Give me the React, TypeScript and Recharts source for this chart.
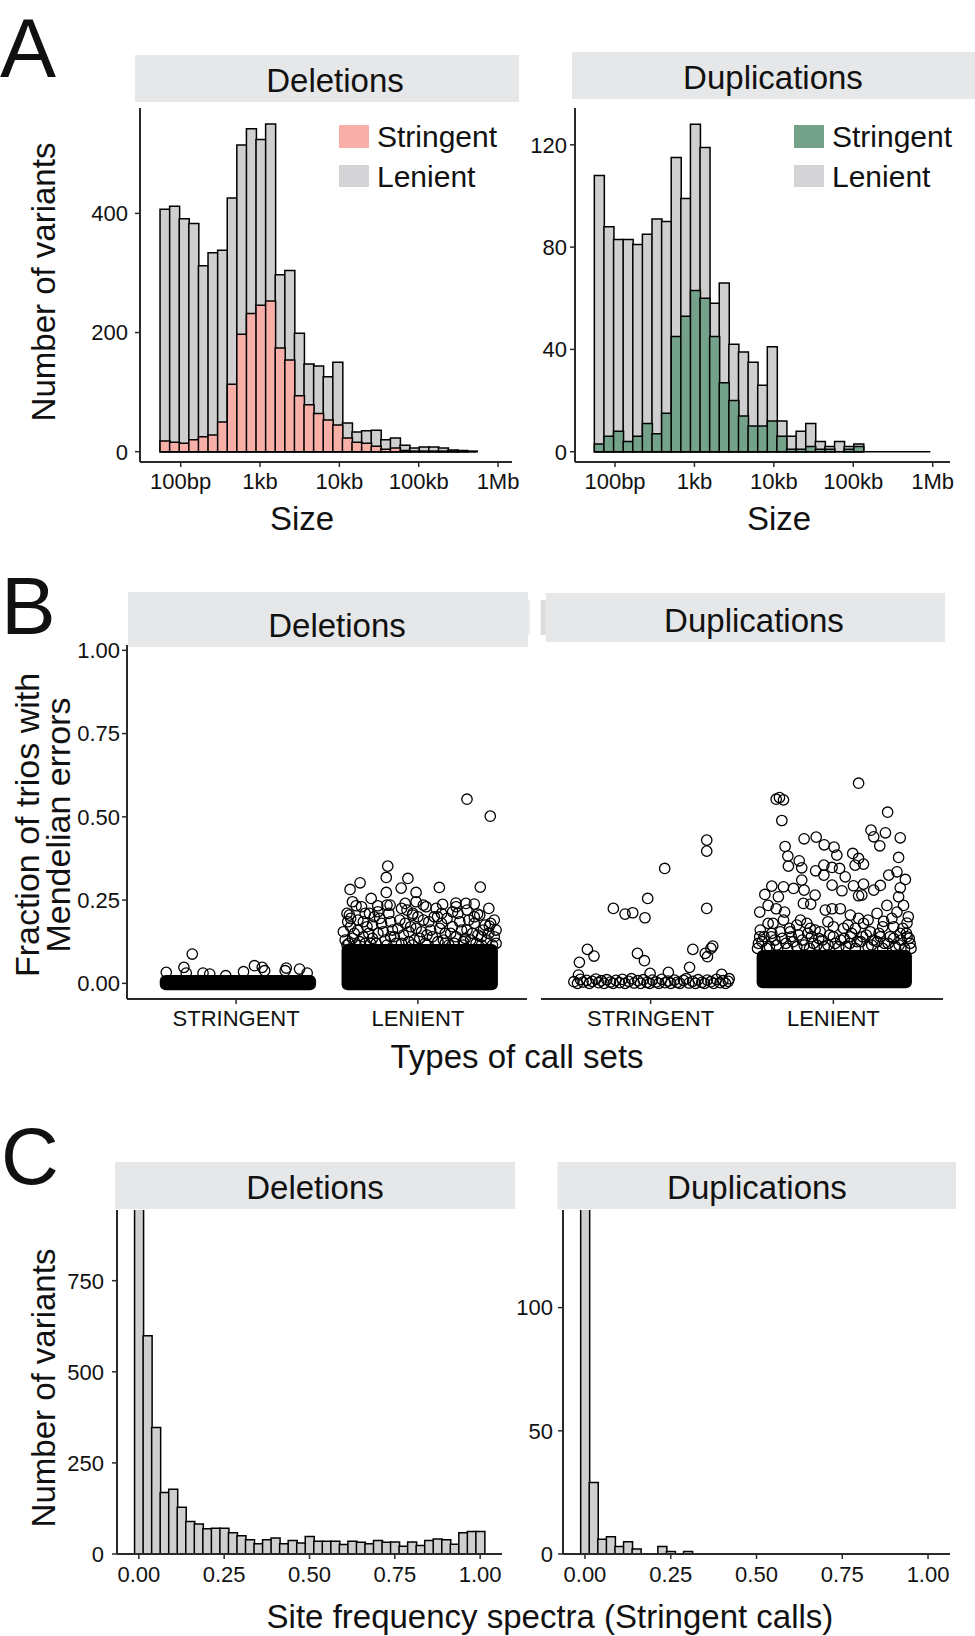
import React from 'react';
import {
  ComposedChart, ScatterChart, Bar, Scatter, XAxis, YAxis,
  ReferenceArea, ReferenceLine,
} from 'recharts';

const FONT = '"Liberation Sans", Arial, Helvetica, sans-serif';
const INK = '#111111';
const AXIS = '#2a2a2a';
const GREY = '#cfcfcf';
const PINK = '#f8afa8';
const GREEN = '#73a189';
const STRIP = '#e6e7e8';

// ---------- A: size of variants (bin centres in log10 bp) ----------
const sizeBins = [
  1.800, 1.921, 2.042, 2.163, 2.284, 2.405, 2.526, 2.647, 2.768, 2.889,
  3.010, 3.131, 3.252, 3.373, 3.494, 3.615, 3.736, 3.857, 3.978, 4.099,
  4.220, 4.341, 4.462, 4.583, 4.704, 4.825, 4.946, 5.067, 5.188, 5.309,
  5.430, 5.551, 5.672, 5.793, 5.914,
];
const sizeTicks = [2, 3, 4, 5, 6];
const sizeTickLabels = ['100bp', '1kb', '10kb', '100kb', '1Mb'];

const delLenient = [
  407, 412, 391, 383, 312, 334, 338, 426, 515, 542,
  524, 550, 297, 304, 199, 147, 144, 126, 150, 48,
  33, 35, 36, 20, 23, 11, 6, 8, 8, 6, 3, 2, 1,
];
const delStringent = [
  18, 16, 14, 20, 25, 28, 50, 113, 197, 232,
  246, 253, 174, 154, 94, 79, 64, 53, 45, 23,
  16, 14, 9, 4, 6, 2, 1, 1, 1, 1, 1, 1, 0,
];
const dupLenient = [
  108, 88, 83, 83, 81, 85, 91, 90, 115, 99,
  128, 119, 58, 66, 42, 39, 35, 26, 41, 12,
  6, 8, 11, 4, 2, 4, 2, 3, 0, 0, 0, 0, 0, 0, 0,
];
const dupStringent = [
  3, 6, 8, 4, 6, 11, 7, 15, 45, 53,
  63, 60, 45, 27, 20, 14, 10, 10, 12, 6,
  1, 1, 2, 1, 1, 0, 1, 2, 0, 0, 0, 0, 0, 0, 0,
];
const delSizeRun = [1.74, 5.73];
const dupSizeRun = [1.74, 5.97];

// ---------- B: Mendelian error fraction, jittered points ----------
const callSets = ['STRINGENT', 'LENIENT'];

const delStringentPts = [
  [0.759, 0.088], [0.713, 0.048], [0.616, 0.033], [1.101, 0.053], [1.144, 0.048],
  [1.157, 0.038], [1.276, 0.046], [1.270, 0.038], [1.349, 0.043], [1.391, 0.031],
  [1.041, 0.035], [0.818, 0.031], [0.855, 0.028], [0.943, 0.023], [0.726, 0.031],
];
const delStringentCore = { x1: 0.58, x2: 1.44, y1: -0.021, y2: 0.025 };

const delLenientPts = [
  [2.270, 0.553], [2.398, 0.502], [1.834, 0.352], [1.826, 0.318], [1.945, 0.315],
  [1.627, 0.282], [1.682, 0.302], [2.118, 0.288], [2.343, 0.289], [1.908, 0.286],
  [1.826, 0.273], [1.990, 0.273], [1.743, 0.255], [1.779, 0.233], [1.847, 0.235],
  [1.930, 0.240], [1.660, 0.233], [2.264, 0.240], [2.310, 0.238], [2.136, 0.237],
  [2.209, 0.241], [1.623, 0.205], [2.328, 0.208], [2.045, 0.230], [1.734, 0.210],
  [2.393, 0.172], [2.191, 0.215], [1.972, 0.210], [1.614, 0.185], [2.108, 0.200],
  [1.60, 0.13], [1.63, 0.17], [1.61, 0.21], [1.65, 0.15], [1.67, 0.19],
  [1.69, 0.23], [1.70, 0.14], [1.72, 0.17], [1.74, 0.12], [1.76, 0.20],
  [1.78, 0.15], [1.80, 0.18], [1.82, 0.13], [1.84, 0.21], [1.86, 0.16],
  [1.88, 0.12], [1.90, 0.19], [1.92, 0.145], [1.94, 0.22], [1.96, 0.17],
  [1.98, 0.13], [2.00, 0.20], [2.02, 0.155], [2.04, 0.12], [2.06, 0.185],
  [2.08, 0.14], [2.10, 0.225], [2.12, 0.165], [2.14, 0.13], [2.16, 0.195],
  [2.18, 0.15], [2.20, 0.12], [2.22, 0.21], [2.24, 0.16], [2.26, 0.135],
  [2.28, 0.19], [2.30, 0.15], [2.32, 0.12], [2.34, 0.205], [2.36, 0.16],
  [2.38, 0.13], [2.40, 0.18], [2.42, 0.14], [2.43, 0.12], [1.62, 0.12],
  [1.68, 0.125], [1.75, 0.135], [1.85, 0.14], [1.95, 0.125], [2.05, 0.145],
  [2.15, 0.12], [2.25, 0.125], [2.35, 0.14], [1.71, 0.21], [1.83, 0.235],
  [1.91, 0.225], [2.03, 0.235], [2.21, 0.23], [2.27, 0.22], [2.39, 0.225],
  [1.64, 0.245], [1.99, 0.245],
  [1.59, 0.155], [1.61, 0.115], [1.64, 0.135], [1.66, 0.115], [1.67, 0.16],
  [1.70, 0.185], [1.71, 0.12], [1.73, 0.15], [1.75, 0.175], [1.77, 0.12],
  [1.79, 0.195], [1.81, 0.155], [1.83, 0.115], [1.85, 0.185], [1.87, 0.14],
  [1.89, 0.165], [1.91, 0.12], [1.93, 0.18], [1.95, 0.155], [1.97, 0.115],
  [1.99, 0.165], [2.01, 0.135], [2.03, 0.19], [2.05, 0.115], [2.07, 0.16],
  [2.09, 0.20], [2.11, 0.125], [2.13, 0.18], [2.15, 0.15], [2.17, 0.115],
  [2.19, 0.17], [2.21, 0.14], [2.23, 0.185], [2.25, 0.115], [2.27, 0.16],
  [2.29, 0.13], [2.31, 0.18], [2.33, 0.145], [2.35, 0.115], [2.37, 0.175],
  [2.39, 0.15], [2.41, 0.115], [2.43, 0.16], [1.63, 0.195], [1.78, 0.215],
  [1.97, 0.205], [2.13, 0.21], [2.31, 0.20], [2.42, 0.19],
];
const delLenientCore = { x1: 1.58, x2: 2.44, y1: -0.021, y2: 0.118 };

const dupStringentPts = [
  [1.307, 0.430], [1.307, 0.397], [1.077, 0.345], [0.984, 0.255], [0.796, 0.225],
  [0.860, 0.208], [0.902, 0.212], [0.969, 0.197], [1.307, 0.225], [0.654, 0.102],
  [0.690, 0.082], [0.610, 0.063], [0.928, 0.090], [0.966, 0.068], [1.231, 0.102],
  [1.340, 0.112], [1.330, 0.105], [1.299, 0.090], [1.311, 0.080], [1.213, 0.048],
  [0.605, 0.025], [1.389, 0.027], [1.097, 0.033], [0.997, 0.030],
  [0.58, 0.005], [0.60, 0.0], [0.615, 0.012], [0.63, 0.004], [0.65, 0.009],
  [0.665, 0.0], [0.68, 0.006], [0.70, 0.013], [0.715, 0.002], [0.73, 0.008],
  [0.745, 0.0], [0.76, 0.011], [0.78, 0.004], [0.795, 0.0], [0.81, 0.009],
  [0.83, 0.002], [0.845, 0.012], [0.86, 0.0], [0.88, 0.006], [0.895, 0.014],
  [0.91, 0.001], [0.93, 0.008], [0.945, 0.0], [0.96, 0.011], [0.98, 0.003],
  [0.995, 0.0], [1.01, 0.01], [1.03, 0.004], [1.045, 0.0], [1.06, 0.012],
  [1.08, 0.002], [1.095, 0.007], [1.11, 0.0], [1.13, 0.01], [1.145, 0.003],
  [1.16, 0.0], [1.18, 0.009], [1.195, 0.014], [1.21, 0.001], [1.23, 0.006],
  [1.245, 0.0], [1.26, 0.011], [1.28, 0.003], [1.295, 0.0], [1.31, 0.01],
  [1.33, 0.005], [1.345, 0.0], [1.36, 0.012], [1.38, 0.002], [1.395, 0.008],
  [1.41, 0.0], [1.425, 0.006], [1.43, 0.014],
];

const dupLenientPts = [
  [2.138, 0.601], [1.687, 0.553], [1.727, 0.551], [1.705, 0.558], [1.718, 0.489],
  [2.297, 0.514], [2.206, 0.460], [2.221, 0.440], [2.285, 0.452], [2.254, 0.413],
  [2.366, 0.437], [1.840, 0.434], [1.906, 0.439], [1.950, 0.416], [2.004, 0.409],
  [1.736, 0.411], [1.751, 0.382], [1.754, 0.352], [1.813, 0.368], [1.827, 0.347],
  [2.019, 0.385], [2.106, 0.390], [2.138, 0.375], [2.165, 0.358], [2.119, 0.355],
  [2.357, 0.378], [1.948, 0.355], [1.903, 0.338], [1.993, 0.348], [2.034, 0.345],
  [1.948, 0.325], [2.065, 0.320], [2.303, 0.325], [2.348, 0.335], [2.394, 0.312],
  [1.827, 0.310], [1.663, 0.292], [1.727, 0.290], [1.782, 0.285], [1.840, 0.280],
  [1.900, 0.265], [1.993, 0.295], [2.047, 0.278], [2.110, 0.293], [2.165, 0.298],
  [2.221, 0.280], [2.257, 0.294], [2.138, 0.263], [2.156, 0.265], [2.366, 0.287],
  [1.625, 0.267], [1.699, 0.260], [1.836, 0.240], [1.876, 0.238], [2.357, 0.260],
  [1.597, 0.214], [1.643, 0.234], [1.687, 0.224], [1.733, 0.214], [1.956, 0.220],
  [1.993, 0.224], [2.038, 0.224], [2.293, 0.234], [2.384, 0.234], [1.643, 0.180],
  [1.727, 0.190], [1.800, 0.175], [1.855, 0.180], [2.093, 0.205], [2.138, 0.195],
  [2.239, 0.210], [2.348, 0.214], [2.403, 0.181], [2.165, 0.180], [2.275, 0.186],
  [1.597, 0.140], [1.663, 0.150], [1.928, 0.155], [2.056, 0.165], [2.202, 0.155],
  [2.330, 0.170], [2.403, 0.140], [1.764, 0.155], [1.873, 0.165], [2.093, 0.140],
  [2.257, 0.140], [2.366, 0.150],
  [1.59, 0.12], [1.62, 0.14], [1.65, 0.11], [1.68, 0.13], [1.71, 0.155],
  [1.74, 0.12], [1.77, 0.14], [1.80, 0.11], [1.83, 0.13], [1.86, 0.15],
  [1.89, 0.12], [1.92, 0.135], [1.95, 0.11], [1.98, 0.145], [2.01, 0.12],
  [2.04, 0.13], [2.07, 0.11], [2.10, 0.15], [2.13, 0.125], [2.16, 0.14],
  [2.19, 0.11], [2.22, 0.13], [2.25, 0.15], [2.28, 0.12], [2.31, 0.14],
  [2.34, 0.11], [2.37, 0.13], [2.40, 0.15], [2.42, 0.12], [1.60, 0.16],
  [1.76, 0.165], [1.90, 0.16], [2.00, 0.17], [2.12, 0.165], [2.27, 0.17],
  [2.38, 0.165],
  [1.585, 0.105], [1.61, 0.125], [1.635, 0.105], [1.66, 0.14], [1.69, 0.115],
  [1.72, 0.135], [1.75, 0.105], [1.78, 0.125], [1.81, 0.145], [1.84, 0.115],
  [1.87, 0.105], [1.88, 0.14], [1.91, 0.115], [1.94, 0.13], [1.97, 0.115],
  [2.00, 0.14], [2.03, 0.11], [2.06, 0.135], [2.09, 0.12], [2.12, 0.105],
  [2.15, 0.125], [2.18, 0.145], [2.21, 0.115], [2.24, 0.125], [2.27, 0.105],
  [2.30, 0.12], [2.33, 0.135], [2.36, 0.115], [2.39, 0.105], [2.415, 0.135],
  [2.425, 0.105], [1.67, 0.18], [1.82, 0.19], [1.97, 0.185], [2.08, 0.175],
  [2.19, 0.19], [2.32, 0.195], [2.41, 0.20],
];
const dupLenientCore = { x1: 1.58, x2: 2.43, y1: -0.015, y2: 0.10 };

// ---------- C: site frequency spectra (stringent calls) ----------
const sfsBins = [
  0.000, 0.025, 0.050, 0.075, 0.100, 0.125, 0.150, 0.175, 0.200, 0.225,
  0.250, 0.275, 0.300, 0.325, 0.350, 0.375, 0.400, 0.425, 0.450, 0.475,
  0.500, 0.525, 0.550, 0.575, 0.600, 0.625, 0.650, 0.675, 0.700, 0.725,
  0.750, 0.775, 0.800, 0.825, 0.850, 0.875, 0.900, 0.925, 0.950, 0.975,
  1.000,
];
const delSfs = [
  1200, 599, 347, 169, 178, 128, 89, 82, 69, 71,
  71, 58, 50, 39, 28, 39, 44, 28, 37, 30,
  48, 35, 35, 35, 26, 35, 32, 28, 37, 32,
  33, 21, 33, 23, 37, 41, 39, 27, 58, 62,
  62,
];
const dupSfs = [
  200, 29, 6, 7, 3, 5, 2, 0, 0, 3,
  1, 0, 1, 0, 0, 0, 0, 0, 0, 0,
  0, 0, 0, 0, 0, 0, 0, 0, 0, 0,
  0, 0, 0, 0, 0, 0, 0, 0, 0, 0,
  0,
];
const sfsTicks = [0, 0.25, 0.5, 0.75, 1];

const toPts = (arr: number[][]) => arr.map(([x, y]) => ({ x, y }));

const tickStyle = { fontSize: 22, fill: INK, fontFamily: FONT };
const axisLine = { stroke: AXIS, strokeWidth: 2 };
const tickLine = { stroke: AXIS, strokeWidth: 1.5 };

const OpenCircle = (p: any) => (
  <circle cx={p.cx} cy={p.cy} r={5.2} fill="none" stroke="#000" strokeWidth={1.3} />
);

function SizeHist({ left, width, lenient, stringent, fill, xDomain, yDomain, yTicks, yWidth, yMargin, run }: any) {
  const data = lenient.map((v: number, i: number) => ({
    bin: sizeBins[i], lenient: v, stringent: stringent[i],
  }));
  return (
    <div style={{ position: 'absolute', left, top: 100 }}>
      <ComposedChart width={width} height={440} data={data}
        margin={{ top: 8, right: 8, bottom: 8, left: 0 }} barCategoryGap={0} barGap={0}>
        <XAxis xAxisId="len" type="number" dataKey="bin" domain={xDomain} allowDataOverflow
          ticks={sizeTicks} tickFormatter={(v: number) => sizeTickLabels[sizeTicks.indexOf(v)]}
          height={70} tick={tickStyle} axisLine={axisLine} tickLine={tickLine} tickSize={5} tickMargin={6} />
        <XAxis xAxisId="str" type="number" dataKey="bin" domain={xDomain} allowDataOverflow hide />
        <YAxis type="number" domain={yDomain} allowDataOverflow ticks={yTicks} width={yWidth}
          tick={tickStyle} axisLine={axisLine} tickLine={tickLine} tickSize={5} tickMargin={yMargin} />
        <Bar xAxisId="len" dataKey="lenient" fill={GREY} stroke="#000" strokeWidth={1.5} isAnimationActive={false} />
        <Bar xAxisId="str" dataKey="stringent" fill={fill} stroke="#000" strokeWidth={1.5} isAnimationActive={false} />
        <ReferenceLine xAxisId="len" segment={[{ x: run[0], y: 0 }, { x: run[1], y: 0 }]}
          stroke="#000" strokeWidth={1.5} />
      </ComposedChart>
    </div>
  );
}

function MendelPanel({ left, width, stringentPts, lenientPts, cores, showY }: any) {
  return (
    <div style={{ position: 'absolute', left, top: 637 }}>
      <ScatterChart width={width} height={410} margin={{ top: 8, right: 8, bottom: 8, left: showY ? 0 : 8 }}>
        <XAxis type="number" dataKey="x" domain={[0.4, 2.6]} allowDataOverflow ticks={[1, 2]}
          tickFormatter={(v: number) => callSets[v - 1]} height={40}
          tick={tickStyle} axisLine={axisLine} tickLine={tickLine} tickSize={5} tickMargin={6} />
        <YAxis type="number" dataKey="y" domain={[-0.047, 1.016]} allowDataOverflow
          ticks={[0, 0.25, 0.5, 0.75, 1]} tickFormatter={(v: number) => v.toFixed(2)}
          width={127} hide={!showY} tick={tickStyle} axisLine={axisLine} tickLine={tickLine}
          tickSize={5} tickMargin={2} />
        {cores.map((c: any, i: number) => (
          <ReferenceArea key={i} x1={c.x1} x2={c.x2} y1={c.y1} y2={c.y2}
            fill="#000" fillOpacity={1} stroke="none" radius={6} />
        ))}
        <Scatter data={toPts(stringentPts)} shape={OpenCircle} isAnimationActive={false} />
        <Scatter data={toPts(lenientPts)} shape={OpenCircle} isAnimationActive={false} />
      </ScatterChart>
    </div>
  );
}

function SfsHist({ left, width, values, yDomain, yTicks, yWidth, yMargin }: any) {
  const data = values.map((v: number, i: number) => ({ bin: sfsBins[i], n: v }));
  return (
    <div style={{ position: 'absolute', left, top: 1202 }}>
      <ComposedChart width={width} height={395} data={data}
        margin={{ top: 8, right: 8, bottom: 8, left: 0 }} barCategoryGap={0} barGap={0}>
        <XAxis type="number" dataKey="bin" domain={[-0.064, 1.064]} allowDataOverflow
          ticks={sfsTicks} tickFormatter={(v: number) => v.toFixed(2)} height={35}
          tick={tickStyle} axisLine={axisLine} tickLine={tickLine} tickSize={5} tickMargin={7} />
        <YAxis type="number" domain={yDomain} allowDataOverflow ticks={yTicks} width={yWidth}
          tick={tickStyle} axisLine={axisLine} tickLine={tickLine} tickSize={5} tickMargin={yMargin} />
        <Bar dataKey="n" fill={GREY} stroke="#000" strokeWidth={1.5} isAnimationActive={false} />
      </ComposedChart>
    </div>
  );
}

const strips = [
  { label: 'Deletions', x: 135, y: 55, w: 384, h: 47, tx: 335, ty: 92 },
  { label: 'Duplications', x: 572, y: 52, w: 403, h: 47, tx: 773, ty: 89 },
  { label: 'Deletions', x: 128, y: 592, w: 400, h: 55, tx: 337, ty: 637 },
  { label: 'Duplications', x: 545.7, y: 593, w: 399.3, h: 49, tx: 754, ty: 632 },
  { label: 'Deletions', x: 115, y: 1162, w: 400, h: 47, tx: 315, ty: 1199 },
  { label: 'Duplications', x: 557.5, y: 1162, w: 398.5, h: 47, tx: 757, ty: 1199 },
];

function Overlay() {
  const t = (s: string, x: number, y: number, size: number, anchor = 'middle', rot = false, key?: string) => (
    <text key={key ?? s + x + y} x={rot ? 0 : x} y={rot ? 0 : y} fontSize={size} textAnchor={anchor}
      fill={INK} fontFamily={FONT} transform={rot ? `translate(${x},${y}) rotate(-90)` : undefined}>{s}</text>
  );
  return (
    <svg width={975} height={1636} style={{ position: 'absolute', left: 0, top: 0, pointerEvents: 'none' }}>
      {strips.map((s, i) => (
        <g key={i}>
          <rect x={s.x} y={s.y} width={s.w} height={s.h} fill={STRIP} />
          {t(s.label, s.tx, s.ty, 33, 'middle', false, 'st' + i)}
        </g>
      ))}
      <rect x={527.7} y={600} width={2.5} height={35} fill="#ededed" />
      <rect x={540.7} y={600} width={5} height={35} fill="#dcdcdc" />

      {t('A', 0, 77, 84, 'start')}
      {t('B', 1, 634, 82, 'start')}
      {t('C', 1, 1184, 80, 'start')}

      <rect x={339} y={125} width={30} height={23} fill={PINK} />
      <rect x={339} y={165} width={30} height={22} fill="#d4d4d6" />
      {t('Stringent', 377, 146.5, 30, 'start')}
      {t('Lenient', 377, 186.5, 30, 'start')}
      <rect x={794} y={125} width={30} height={23} fill={GREEN} />
      <rect x={794} y={165} width={30} height={22} fill="#d4d4d6" />
      {t('Stringent', 832, 146.5, 30, 'start')}
      {t('Lenient', 832, 186.5, 30, 'start')}

      {t('Size', 302, 530, 33)}
      {t('Size', 779, 530, 33)}
      {t('Number of variants', 55, 282, 33, 'middle', true)}
      {t('Fraction of trios with', 39, 825, 34, 'middle', true)}
      {t('Mendelian errors', 70, 825, 34, 'middle', true)}
      {t('Types of call sets', 517, 1068, 33)}
      {t('Number of variants', 55, 1388, 33, 'middle', true, 'nv2')}
      {t('Site frequency spectra (Stringent calls)', 550, 1628, 33)}
    </svg>
  );
}

export default function App() {
  return (
    <div style={{ position: 'absolute', left: 0, top: 0, width: 975, height: 1636, background: '#fff', fontFamily: FONT, overflow: 'hidden' }}>
      <SizeHist left={0} width={520} lenient={delLenient} stringent={delStringent} fill={PINK}
        xDomain={[1.487, 6.176]} yDomain={[-17.3, 576.9]} yTicks={[0, 200, 400]} yWidth={140} yMargin={7} run={delSizeRun} />
      <SizeHist left={500} width={458} lenient={dupLenient} stringent={dupStringent} fill={GREEN}
        xDomain={[1.496, 6.218]} yDomain={[-4.03, 134.4]} yTicks={[0, 40, 80, 120]} yWidth={75} yMargin={3} run={dupSizeRun} />

      <MendelPanel left={0} width={535} stringentPts={delStringentPts} lenientPts={delLenientPts}
        cores={[delStringentCore, delLenientCore]} showY />
      <MendelPanel left={533} width={418} stringentPts={dupStringentPts} lenientPts={dupLenientPts}
        cores={[dupLenientCore]} showY={false} />

      <SfsHist left={0} width={510} values={delSfs} yDomain={[0, 944]} yTicks={[0, 250, 500, 750]} yWidth={117} yMargin={8} />
      <SfsHist left={480} width={478} values={dupSfs} yDomain={[0, 139.6]} yTicks={[0, 50, 100]} yWidth={83} yMargin={5} />

      <Overlay />
    </div>
  );
}
